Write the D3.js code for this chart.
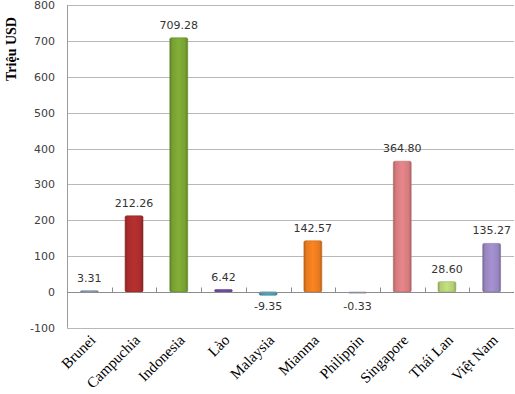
<!DOCTYPE html>
<html><head><meta charset="utf-8">
<script src="https://cdn.jsdelivr.net/npm/d3@7"></script>
<style>body{margin:0;background:#fff}svg{display:block}</style>
</head><body>
<svg id="c" width="515" height="394"></svg>
<script>
const categories = ["Brunei","Campuchia","Indonesia","Lào","Malaysia","Mianma","Philippin","Singapore","Thái Lan","Việt Nam"];
const values = [3.31, 212.26, 709.28, 6.42, -9.35, 142.57, -0.33, 364.80, 28.60, 135.27];
const colors = ["#7f98b2","#a82c2c","#77a032","#6a4a9c","#3e9cb2","#e67a1e","#c8d0da","#d47b7e","#b3cd74","#9886bf"];
const yTicks = [-100,0,100,200,300,400,500,600,700,800];
const yTitle = "Triệu USD";

const svg = d3.select("#c");
const L = 67, R = 514, T = 5.3, B = 327.7;
const x = d3.scaleBand().domain(categories).range([L, R]).paddingInner(0.6).paddingOuter(0.3);
const xb = d3.scaleBand().domain(categories).range([L, R]);
const y = d3.scaleLinear().domain([-100, 800]).range([B, T]);

const defs = svg.append("defs");
colors.forEach((c, i) => {
  const g = defs.append("linearGradient").attr("id", "g" + i).attr("x1", 0).attr("x2", 1).attr("y1", 0).attr("y2", 0);
  const base = d3.color(c);
  g.append("stop").attr("offset", "0%").attr("stop-color", base.darker(0.7));
  g.append("stop").attr("offset", "14%").attr("stop-color", base);
  g.append("stop").attr("offset", "50%").attr("stop-color", base.brighter(0.25));
  g.append("stop").attr("offset", "86%").attr("stop-color", base);
  g.append("stop").attr("offset", "100%").attr("stop-color", base.darker(0.7));
});

svg.append("g").selectAll("line").data(yTicks.filter(d => d !== 0)).join("line")
  .attr("x1", L).attr("x2", R).attr("y1", d => Math.round(y(d)) + 0.5).attr("y2", d => Math.round(y(d)) + 0.5)
  .attr("stroke", "#b8b8b8").attr("stroke-width", 1);

svg.append("line").attr("x1", L + 0.5).attr("x2", L + 0.5).attr("y1", y(800)).attr("y2", y(-100))
  .attr("stroke", "#9a9a9a");

svg.append("g").selectAll("text").data(yTicks).join("text")
  .attr("x", 55).attr("y", d => y(d) + 4)
  .attr("text-anchor", "end").attr("font-family", "DejaVu Sans").attr("font-size", 11).attr("fill", "#404040")
  .text(d => d);

svg.append("g").selectAll("rect").data(values).join("rect")
  .attr("x", (d, i) => x(categories[i]))
  .attr("width", x.bandwidth())
  .attr("y", d => y(Math.max(0, d)))
  .attr("height", d => Math.max(1.5, Math.abs(y(d) - y(0))))
  .attr("rx", 1.5)
  .attr("fill", (d, i) => "url(#g" + i + ")")
  .attr("stroke", (d, i) => d3.color(colors[i]).darker(0.4))
  .attr("stroke-width", 0.6);

const z = Math.round(y(0)) + 0.5;
svg.append("line").attr("x1", L).attr("x2", R).attr("y1", z).attr("y2", z).attr("stroke", "#8c8c8c");
svg.append("g").selectAll("line").data(categories.slice(1)).join("line")
  .attr("x1", d => Math.round(xb(d)) + 0.5).attr("x2", d => Math.round(xb(d)) + 0.5)
  .attr("y1", z).attr("y2", z - 5).attr("stroke", "#8c8c8c");

svg.append("g").selectAll("text").data(values).join("text")
  .attr("x", (d, i) => x(categories[i]) + x.bandwidth() / 2)
  .attr("y", d => d >= 0 ? y(d) - 9 : y(0) + 18)
  .attr("text-anchor", "middle").attr("font-family", "DejaVu Sans").attr("font-size", 11).attr("fill", "#333")
  .text(d => d.toFixed(2));

svg.append("g").selectAll("text").data(categories).join("text")
  .attr("transform", d => `translate(${x(d) + x.bandwidth() / 2 + 7},${341}) rotate(-45)`)
  .attr("text-anchor", "end").attr("font-family", "Liberation Serif").attr("font-size", 15).attr("fill", "#000")
  .text(d => d);

svg.append("text").attr("transform", "translate(16,49) rotate(-90)")
  .attr("text-anchor", "middle").attr("font-family", "Liberation Serif").attr("font-weight", "bold")
  .attr("font-size", 14).attr("fill", "#000").text(yTitle);
</script>
</body></html>
